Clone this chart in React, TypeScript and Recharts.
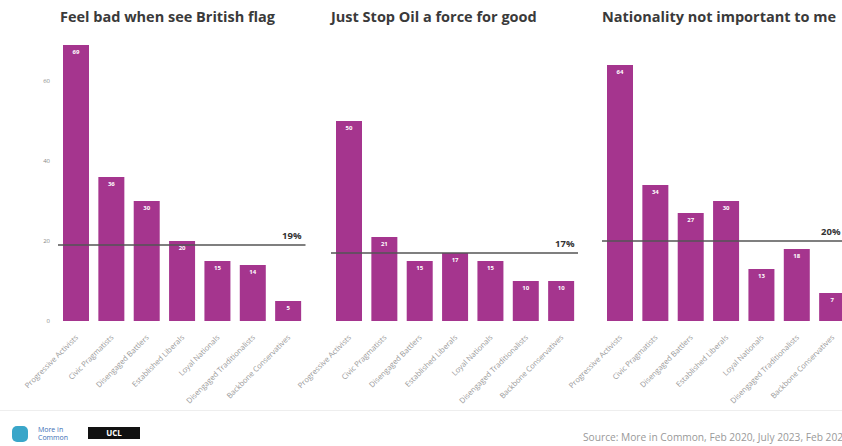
import React from 'react'
import { BarChart, Bar, XAxis, YAxis, ReferenceLine, LabelList } from 'recharts'

const segments = [
  'Progressive Activists',
  'Civic Pragmatists',
  'Disengaged Battlers',
  'Established Liberals',
  'Loyal Nationals',
  'Disengaged Traditionalists',
  'Backbone Conservatives',
]

const flagBad = [69, 36, 30, 20, 15, 14, 5]
const jsoGood = [50, 21, 15, 17, 15, 10, 10]
const nationality = [64, 34, 27, 30, 13, 18, 7]

const titles = ['Feel bad when see British flag', 'Just Stop Oil a force for good', 'Nationality not important to me']
const averages = [19, 17, 20]
const yTicks = [0, 20, 40, 60]

const BAR = '#A5358E'
const FONT = '"Open Sans", Lato, sans-serif'

const AngledTick = (props: any) => {
  const { x, y, payload } = props
  return (
    <g transform={`translate(${x + 3},${y + 9})`}>
      <text transform="rotate(-45)" textAnchor="end" fontSize={7.6} fill="#9a9a9a" fontFamily={FONT}>
        {payload.value}
      </text>
    </g>
  )
}

const AvgLabel = (props: any) => {
  const { viewBox, value, inset } = props
  const { x, y, width } = viewBox
  return (
    <text x={x + width - inset} y={y - 6} textAnchor="end" fontSize={9.5} fontWeight={700} fill="#333" fontFamily={FONT}>
      {value}
    </text>
  )
}

function Panel({ values, avg, showY, inset }: { values: number[]; avg: number; showY: boolean; inset: number }) {
  const data = segments.map((s, i) => ({ name: s, v: values[i] }))
  const ml = showY ? 37 : 40
  const yw = showY ? 21 : 0
  return (
    <BarChart
      width={247.5 + ml + yw}
      height={425}
      data={data}
      margin={{ top: 41, right: 0, bottom: 0, left: ml }}
      barSize={26}
    >
      <XAxis dataKey="name" interval={0} tick={<AngledTick />} tickLine={false} axisLine={false} height={104} />
      <YAxis
        domain={[0, 70]}
        ticks={yTicks}
        hide={!showY}
        width={yw}
        tickLine={false}
        axisLine={false}
        tick={{ fontSize: 6, fill: '#888', fontFamily: FONT }}
      />
      <Bar dataKey="v" fill={BAR} isAnimationActive={false}>
        <LabelList dataKey="v" position="insideTop" offset={5} fill="#fff" fontSize={6} fontWeight={700} fontFamily={FONT} />
      </Bar>
      <ReferenceLine
        y={avg}
        stroke="#555"
        strokeWidth={1.5}
        label={<AvgLabel value={`${avg}%`} inset={inset} />}
      />
    </BarChart>
  )
}

export default function App() {
  const series = [flagBad, jsoGood, nationality]
  const lefts = [0, 290.5, 561.5]
  const titleLefts = [60, 331, 602]
  const insets = [4, 4, 9]
  return (
    <div style={{ position: 'fixed', left: 0, top: 0, width: 842, height: 446, background: '#fff', overflow: 'hidden', fontFamily: FONT }}>
      {titles.map((t, i) => (
        <div key={t} style={{ position: 'absolute', left: titleLefts[i], top: 7, fontSize: 14.5, fontWeight: 700, color: '#3a3a3a', whiteSpace: 'nowrap' }}>
          {t}
        </div>
      ))}
      {series.map((vals, i) => (
        <div key={i} style={{ position: 'absolute', left: lefts[i], top: 0 }}>
          <Panel values={vals} avg={averages[i]} showY={i === 0} inset={insets[i]} />
        </div>
      ))}
      <div style={{ position: 'absolute', left: 0, top: 410, width: 842, height: 1, background: '#eee' }} />
      <div style={{ position: 'absolute', left: 12, top: 426, width: 16, height: 16, borderRadius: 5, background: '#3aa6c9' }} />
      <div style={{ position: 'absolute', left: 38, top: 426, fontSize: 7, lineHeight: '8px', color: '#3b6fb6' }}>
        More in<br />Common
      </div>
      <div style={{ position: 'absolute', left: 88, top: 427, width: 52, height: 12, background: '#111', color: '#fff', fontSize: 8, fontWeight: 700, textAlign: 'center', lineHeight: '12px' }}>
        UCL
      </div>
      <div style={{ position: 'absolute', left: 583, top: 430, fontSize: 10.2, color: '#999', whiteSpace: 'nowrap' }}>
        Source: More in Common, Feb 2020, July 2023, Feb 2024
      </div>
    </div>
  )
}
